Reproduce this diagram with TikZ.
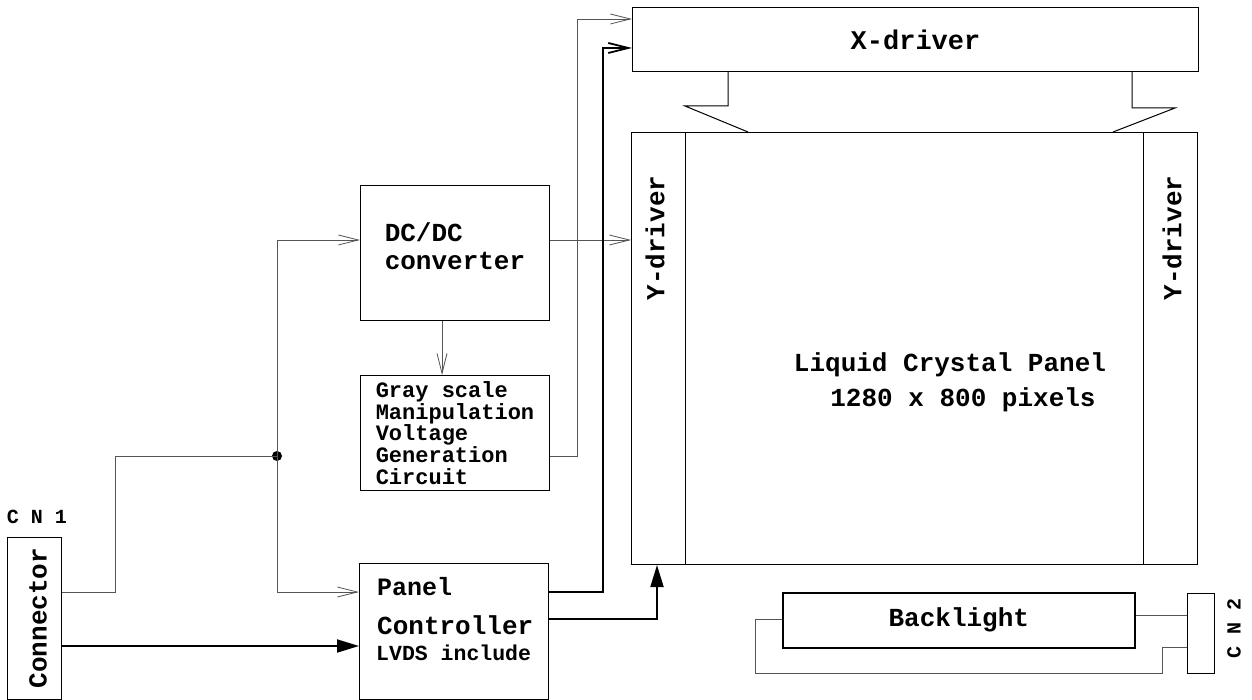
\documentclass[tikz,border=0pt]{standalone}
\usepackage{fontspec}
\setmonofont{Liberation Mono}
\usepackage{tikz}
\usetikzlibrary{arrows.meta,positioning,calc}
\definecolor{wiregray}{RGB}{85,85,85}
\newcommand{\fsz}[2]{\fontsize{#1}{#2}\selectfont}

\begin{document}
\begin{tikzpicture}[x=1pt, y=-1pt,
  every node/.style={font=\ttfamily\bfseries\fsz{26}{28}, inner sep=0pt},
  blk/.style={draw, line width=1pt, anchor=north west},
  wire/.style={draw=wiregray, line width=0.8pt},
  bus/.style={draw=black, line width=1.8pt},
  barb/.style={-{Straight Barb[length=20pt,width=10pt]}},
  fat/.style={-{Triangle[length=22pt,width=13pt]}}]
\useasboundingbox (0,0) rectangle (1252,700);

% connector CN1
\node[blk, minimum width=54pt, minimum height=162pt] (conn) at (7,537) {};
\node[rotate=90] (conntxt) at (38,618) {Connector};
\node[font=\ttfamily\bfseries\fsz{20}{20}] (cn1) at (37,517) {C N 1};

% middle blocks
\node[blk, minimum width=189pt, minimum height=135pt] (dcdc) at (360,185) {};
\node[align=left] (dctxt) at (455,246) {DC/DC\\converter};
\node[blk, minimum width=189pt, minimum height=115pt, align=left,
      font=\ttfamily\bfseries\fsz{22}{21.75}] (gray) at (360,375)
      {Gray scale\\Manipulation\\Voltage\\Generation\\Circuit};
\node[blk, minimum width=189pt, minimum height=136pt] (pc) at (359,563) {};
\node[anchor=west, font=\ttfamily\bfseries\fsz{25}{25}] (pcl1) at (377,587) {Panel};
\node[anchor=west] (pcl2) at (377,625) {Controller};
\node[anchor=west, font=\ttfamily\bfseries\fsz{21.5}{22}] (pcl3) at (376,653) {LVDS include};

% panel with drivers
\node[blk, minimum width=566pt, minimum height=64pt, font=\ttfamily\bfseries\fsz{27}{27}] (xdrv) at (632,7) {X-driver};
\node[blk, minimum width=566pt, minimum height=432pt] (lcd) at (631,132) {};
\node[blk, minimum width=54pt, minimum height=432pt] (ydl) at (631,132) {};
\node[blk, minimum width=54pt, minimum height=432pt] (ydr) at (1143,132) {};
\node[rotate=90] (ydltxt) at (655,238) {Y-driver};
\node[rotate=90] (ydrtxt) at (1172,238) {Y-driver};
\node (lcdname) at (950,365) {Liquid Crystal Panel};
\node (lcdres) at (963,400) {1280 x 800 pixels};

% backlight and CN2
\node[blk, line width=1.6pt, minimum width=352pt, minimum height=55pt] (bl) at (782,592) {Backlight};
\node[blk, line width=0.8pt, minimum width=27pt, minimum height=80pt] (cn2) at (1187,593) {};
\node[rotate=90, font=\ttfamily\bfseries\fsz{20}{20}] (cn2txt) at (1234,628) {C N 2};

% power wiring
\coordinate (dot) at (277,456);
\coordinate (bend) at (115,456);
\fill (dot) circle (5);
\draw[wire] ($(conn.north east)+(0,55)$) -| (bend) -- (dot);
\draw[wire, barb] (dot) |- ($(dcdc.north west)+(0,55)$);
\draw[wire, barb] (dot) |- ($(pc.north west)+(0,29)$);
\draw[wire, barb] ($(dcdc.north east)+(0,55)$) -- ($(ydl.north west)+(0,108)$);
\draw[wire, barb] ($(dcdc.south)+(-13,0)$) -- ($(gray.north)+(-13,0)$);
\coordinate (gtap) at (577,19);
\draw[wire, barb] ($(gray.north east)+(0,81)$) -| (gtap) -- ($(xdrv.north west)+(0,12)$);

% signal wiring
\draw[bus, fat] ($(conn.north east)+(0,109)$) -- ($(pc.north west)+(0,83)$);
\coordinate (ptap) at (603,48);
\draw[bus, barb] ($(pc.north east)+(0,29)$) -| (ptap) -- ($(xdrv.north west)+(0,41)$);
\draw[bus, fat] ($(pc.north east)+(0,56)$) -| ($(lcd.south west)+(26,0)$);

% X-driver to panel
\draw[line width=1pt] ($(xdrv.south west)+(96,0)$) -- ++(0,34) -- ++(-43,0) -- ($(lcd.north west)+(117,0)$);
\draw[line width=1pt] ($(xdrv.south west)+(500,0)$) -- ++(0,36) -- ++(43,0) -- ($(lcd.north west)+(482,0)$);

% backlight wiring
\coordinate (blloop) at (755,673);
\draw[wire] ($(bl.north east)+(0,23)$) -- ($(cn2.north west)+(0,22)$);
\draw[wire] ($(cn2.north west)+(0,54)$) -- ++(-25,0) -- ++(0,26) -- (blloop) |- ($(bl.north west)+(0,27)$);
\end{tikzpicture}
\end{document}
